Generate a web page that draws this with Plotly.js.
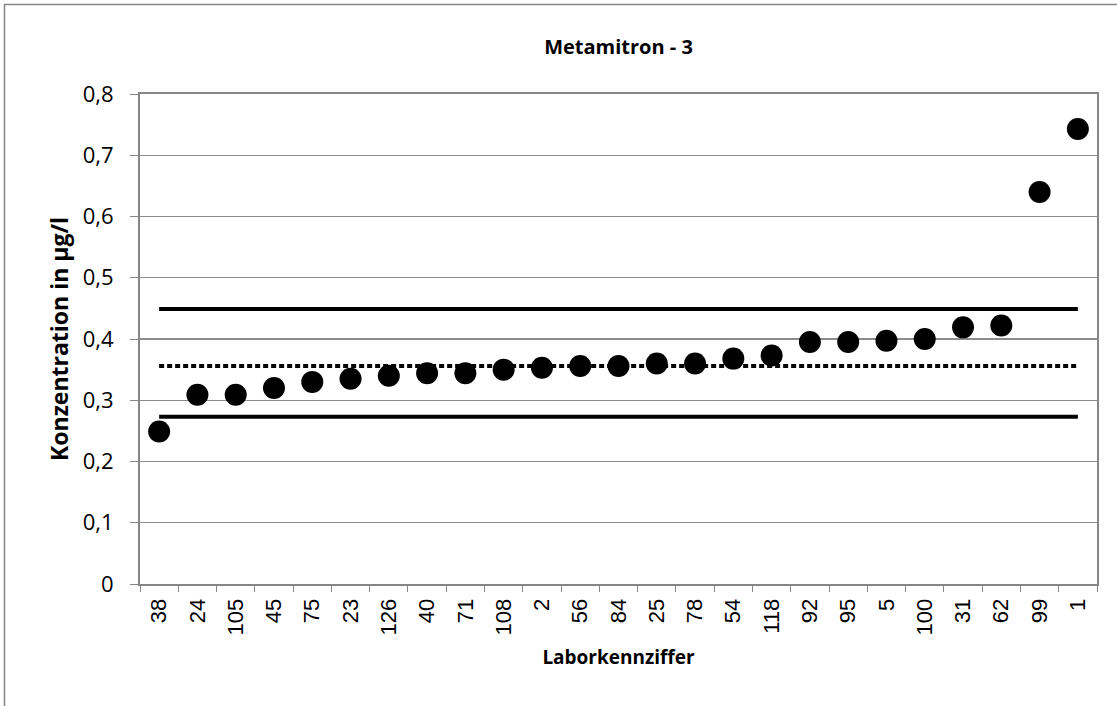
<!DOCTYPE html>
<html>
<head>
<meta charset="utf-8">
<script src="https://cdn.plot.ly/plotly-3.0.1.min.js"></script>
<style>
  html, body { margin: 0; padding: 0; background: #ffffff; }
  #chart { width: 1117px; height: 706px; }
</style>
</head>
<body>
<div id="chart"></div>
<script>
// Laboratory codes (x categories, sorted by result)
const labCodes = ['38','24','105','45','75','23','126','40','71','108','2','56','84','25','78','54','118','92','95','5','100','31','62','99','1'];
// Measured concentrations in µg/l
const concentrations = [0.249,0.309,0.309,0.320,0.330,0.335,0.340,0.344,0.344,0.350,0.353,0.356,0.356,0.360,0.360,0.368,0.373,0.395,0.395,0.397,0.400,0.419,0.422,0.640,0.743];
// Reference lines
const upperLimit = 0.449;
const assignedValue = 0.356;
const lowerLimit = 0.273;
// Y axis ticks
const yTickVals = [0,0.1,0.2,0.3,0.4,0.5,0.6,0.7,0.8];
const yTickText = ['0','0,1','0,2','0,3','0,4','0,5','0,6','0,7','0,8'];

const constLine = v => labCodes.map(() => v);

const traces = [
  { x: labCodes, y: constLine(upperLimit), type: 'scatter', mode: 'lines',
    line: { color: '#000000', width: 4 }, hoverinfo: 'skip', showlegend: false },
  { x: labCodes, y: constLine(lowerLimit), type: 'scatter', mode: 'lines',
    line: { color: '#000000', width: 4 }, hoverinfo: 'skip', showlegend: false },
  { x: labCodes, y: constLine(assignedValue), type: 'scatter', mode: 'lines',
    line: { color: '#000000', width: 4, dash: '5px,3px' }, hoverinfo: 'skip', showlegend: false },
  { x: labCodes, y: concentrations, type: 'scatter', mode: 'markers',
    marker: { color: '#000000', size: 22, symbol: 'circle' }, showlegend: false }
];

const calibri = '"Open Sans", "Noto Sans", sans-serif';

const layout = {
  width: 1117, height: 706,
  margin: { l: 140, r: 20, t: 94, b: 122 },
  paper_bgcolor: '#ffffff', plot_bgcolor: '#ffffff',
  title: { text: '<b>Metamitron - 3</b>', x: 0.5, xref: 'paper', xanchor: 'center',
           y: 46, yref: 'container', yanchor: 'middle',
           font: { family: calibri, size: 20, color: '#000000' } },
  xaxis: {
    type: 'category', range: [-0.5, 24.5], fixedrange: true,
    showline: true, linecolor: '#868686', linewidth: 2, mirror: true,
    showgrid: false, zeroline: false,
    ticks: 'outside', tickson: 'boundaries', ticklen: 6, tickwidth: 1, tickcolor: '#868686',
    tickangle: -90, ticklabelstandoff: 4,
    tickfont: { family: '"Liberation Sans Narrow", "Liberation Sans", Arial, sans-serif', size: 22, color: '#000000' },
    title: { text: '<b>Laborkennziffer</b>', standoff: 16,
             font: { family: calibri, size: 19, color: '#000000' } }
  },
  yaxis: {
    range: [0, 0.8], fixedrange: true,
    tickmode: 'array', tickvals: yTickVals, ticktext: yTickText,
    showline: true, linecolor: '#868686', linewidth: 2, mirror: true,
    showgrid: true, gridcolor: '#8c8c8c', gridwidth: 1.3,
    zeroline: false,
    ticks: 'outside', ticklen: 8, tickwidth: 1, tickcolor: '#868686',
    ticklabelstandoff: 12,
    tickfont: { family: calibri, size: 22, color: '#000000' },
    title: { text: '<b>Konzentration in µg/l</b>', standoff: 8,
             font: { family: calibri, size: 23, color: '#000000' } }
  },
  shapes: [
    { type: 'rect', xref: 'paper', yref: 'paper',
      x0: (4.5 - 140) / 957, x1: (1130 - 140) / 957,
      y0: -(720 - 584) / 490, y1: 1 + (94 - 4.5) / 490,
      line: { color: '#868686', width: 1.5 }, fillcolor: 'rgba(0,0,0,0)', layer: 'below' }
  ]
};

Plotly.newPlot('chart', traces, layout, { displayModeBar: false, staticPlot: true });
</script>
</body>
</html>
